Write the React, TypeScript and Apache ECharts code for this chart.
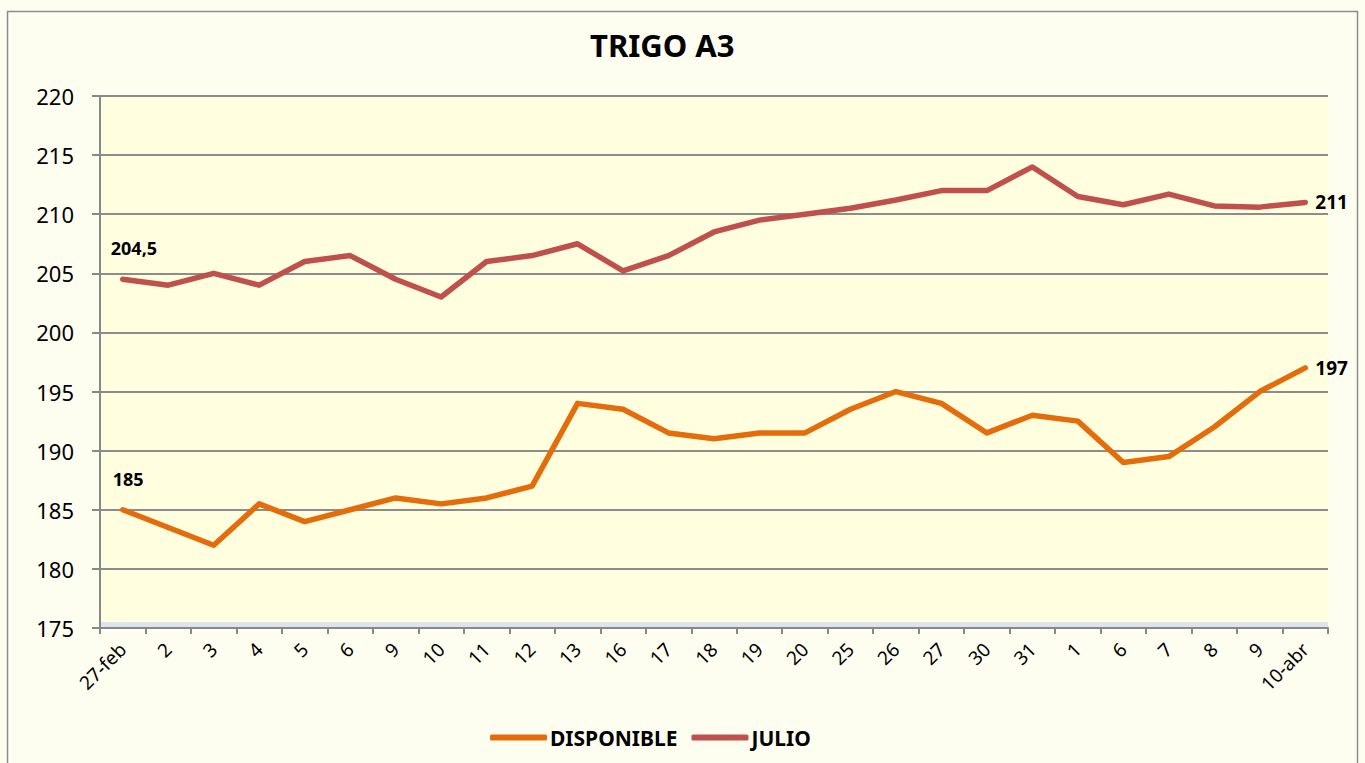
import React, { useEffect, useRef } from "react";
import * as echarts from "echarts";

const categories = ["27-feb", "2", "3", "4", "5", "6", "9", "10", "11", "12", "13", "16", "17", "18", "19", "20", "25", "26", "27", "30", "31", "1", "6", "7", "8", "9", "10-abr"];
const disponible = [185, 183.5, 182, 185.5, 184, 185, 186, 185.5, 186, 187, 194, 193.5, 191.5, 191, 191.5, 191.5, 193.5, 195, 194, 191.5, 193, 192.5, 189, 189.5, 192, 195, 197];
const julio = [204.5, 204, 205, 204, 206, 206.5, 204.5, 203, 206, 206.5, 207.5, 205.2, 206.5, 208.5, 209.5, 210, 210.5, 211.2, 212, 212, 214, 211.5, 210.8, 211.7, 210.7, 210.6, 211];
const yTicks = { min: 175, max: 220, interval: 5 };

const FONT = "Noto Sans";

function withEndLabels(values: number[], firstOffset: number[]) {
  const fmt = (v: number) => String(v).replace(".", ",");
  return values.map((v, i) => {
    if (i === 0) {
      return {
        value: v,
        label: {
          show: true, position: "top", align: "left", offset: firstOffset,
          formatter: fmt(v), fontFamily: FONT, fontWeight: "bold", fontSize: 18, color: "#000",
        },
      };
    }
    if (i === values.length - 1) {
      return {
        value: v,
        label: {
          show: true, position: "right", distance: 10,
          formatter: fmt(v), fontFamily: FONT, fontWeight: "bold", fontSize: 19, color: "#000",
        },
      };
    }
    return v;
  });
}

export default function App() {
  const ref = useRef<HTMLDivElement>(null);
  useEffect(() => {
    if (!ref.current) return;
    const chart = echarts.init(ref.current, null, { renderer: "svg" });
    chart.setOption({
      animation: false,
      backgroundColor: "#FEFEF0",
      graphic: [
        {
          type: "rect", z: -10, silent: true,
          shape: { x: 7.5, y: 11.5, width: 1350, height: 770 },
          style: { fill: "#FEFEF0", stroke: "#8C8C8C", lineWidth: 1.5 },
        },
        {
          type: "rect", z: 0, silent: true,
          shape: { x: 100, y: 622, width: 1228, height: 6 },
          style: { fill: "#DCE4F0" },
        },
      ],
      title: {
        text: "TRIGO A3", left: 585, top: 24,
        textStyle: { fontFamily: FONT, fontWeight: "bold", fontSize: 31, color: "#000" },
      },
      legend: {
        bottom: 10, left: 485, itemWidth: 57, itemHeight: 6, itemGap: 14,
        icon: "roundRect",
        textStyle: { fontFamily: FONT, fontWeight: "bold", fontSize: 21, color: "#000", padding: [0, 0, 0, -2] },
        data: ["DISPONIBLE", "JULIO"],
      },
      grid: {
        left: 100, right: 37, top: 96, bottom: 135, show: true,
        backgroundColor: "#FFFFE0", borderWidth: 0,
      },
      xAxis: {
        type: "category", data: categories, boundaryGap: true,
        axisLine: { lineStyle: { color: "#888", width: 2 } },
        axisTick: { show: true, length: 6, lineStyle: { color: "#888", width: 2 }, alignWithLabel: false },
        axisLabel: { rotate: 45, margin: 18, fontFamily: FONT, fontSize: 19, color: "#000", interval: 0 },
        splitLine: { show: false },
      },
      yAxis: {
        type: "value", min: yTicks.min, max: yTicks.max, interval: yTicks.interval,
        axisLine: { show: true, lineStyle: { color: "#888", width: 2 } },
        axisTick: { show: true, length: 8, lineStyle: { color: "#888", width: 2 } },
        axisLabel: { margin: 26, fontFamily: FONT, fontSize: 22, color: "#000" },
        splitLine: { lineStyle: { color: "#8C8C8C", width: 2 } },
      },
      series: [
        {
          name: "DISPONIBLE", type: "line", data: withEndLabels(disponible, [-10, -17]),
          showSymbol: true, symbol: "circle", symbolSize: 0, color: "#E46C0A",
          lineStyle: { width: 5.5, color: "#E46C0A", cap: "round", join: "round" },
          z: 3,
        },
        {
          name: "JULIO", type: "line", data: withEndLabels(julio, [-12, -17]),
          showSymbol: true, symbol: "circle", symbolSize: 0, color: "#C0504D",
          lineStyle: { width: 5.5, color: "#C0504D", cap: "round", join: "round" },
          z: 3,
        },
      ],
    });
    return () => chart.dispose();
  }, []);
  return <div ref={ref} style={{ position: "fixed", left: 0, top: 0, width: 1365, height: 763 }} />;
}
